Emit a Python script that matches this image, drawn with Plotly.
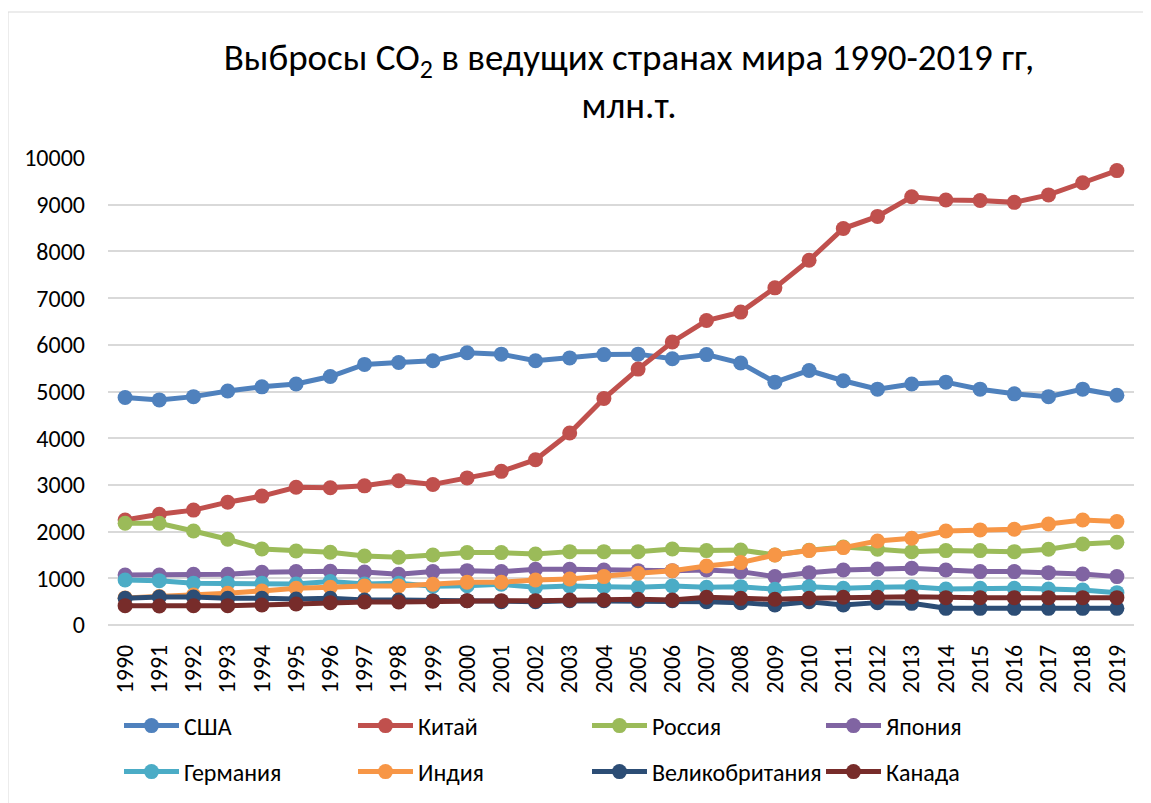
import plotly.graph_objects as go

years = list(range(1990, 2020))

usa = [4870, 4820, 4890, 5010, 5100, 5160, 5320, 5580, 5620, 5660,
       5830, 5800, 5660, 5720, 5790, 5800, 5700, 5790, 5610, 5200,
       5450, 5230, 5050, 5160, 5200, 5050, 4950, 4890, 5050, 4920]
china = [2250, 2370, 2460, 2630, 2760, 2950, 2940, 2980, 3090, 3010,
         3150, 3290, 3540, 4110, 4850, 5480, 6060, 6520, 6700, 7220,
         7810, 8490, 8750, 9170, 9100, 9090, 9050, 9210, 9470, 9730]
russia = [2180, 2180, 2014, 1836, 1629, 1586, 1557, 1479, 1450, 1500,
          1550, 1550, 1521, 1571, 1571, 1571, 1629, 1593, 1607, 1500,
          1600, 1670, 1621, 1571, 1593, 1593, 1571, 1621, 1736, 1771]
japan = [1071, 1071, 1086, 1086, 1129, 1143, 1150, 1136, 1086, 1143,
         1164, 1143, 1193, 1193, 1179, 1164, 1164, 1180, 1143, 1036,
         1121, 1179, 1200, 1214, 1179, 1143, 1143, 1121, 1093, 1036]
germany = [964, 950, 893, 893, 893, 879, 929, 879, 893, 830,
           843, 871, 807, 836, 821, 807, 836, 807, 821, 764,
           821, 786, 807, 821, 771, 786, 786, 771, 750, 693]
india = [580, 610, 643, 679, 729, 786, 807, 836, 836, 871,
         914, 914, 964, 986, 1036, 1107, 1164, 1264, 1336, 1500,
         1593, 1657, 1800, 1857, 2014, 2036, 2050, 2164, 2250, 2214]
uk = [571, 600, 600, 571, 571, 557, 571, 536, 536, 521,
      521, 500, 500, 521, 521, 521, 521, 500, 479, 429,
      500, 429, 479, 464, 357, 357, 357, 357, 357, 357]
canada = [414, 407, 414, 414, 429, 450, 479, 493, 493, 507,
          521, 521, 521, 536, 536, 550, 536, 593, 571, 550,
          571, 593, 593, 607, 586, 586, 586, 586, 586, 586]

names = ["США", "Китай", "Россия", "Япония",
         "Германия", "Индия", "Великобритания", "Канада"]
series = [usa, china, russia, japan, germany, india, uk, canada]
colors = ["#4F81BD", "#C0504D", "#9BBB59", "#8064A2",
          "#4BACC6", "#F79646", "#2C4D75", "#772C2A"]

FONT = "Carlito, Calibri, Lato, sans-serif"

fig = go.Figure()
for i, (n, s, c) in enumerate(zip(names, series, colors)):
    fig.add_trace(go.Scatter(
        x=years, y=s, name=n, mode="lines+markers",
        line=dict(color=c, width=5),
        marker=dict(color=c, size=15),
        cliponaxis=False,
        legend="legend" if i < 4 else "legend2",
    ))

# page offset of the figure inside the browser (body margin)
OFF = 8
W, H = 1151, 803
# plot area in screen pixels
SL, SR, ST, SB = 108, 1134, 158, 625
L, T = SL - OFF, ST - OFF
R = W - (SR - OFF)
B = H - (SB - OFF)
pw = W - L - R
ph = H - T - B

def px_x(p):  # screen px -> paper
    return (p - SL) / pw

def px_y(p):
    return (SB - p) / ph

legend_common = dict(
    orientation="h", xanchor="left", yanchor="middle",
    entrywidth=164, itemwidth=55,
    font=dict(size=24, family=FONT, color="#000000"),
    bgcolor="rgba(0,0,0,0)",
)

fig.update_layout(
    width=W, height=H,
    margin=dict(l=L, r=R, t=T, b=B, autoexpand=False),
    paper_bgcolor="white", plot_bgcolor="white",
    font=dict(family=FONT, size=24, color="#000000"),
    title=dict(
        text="Выбросы CO<sub>2</sub> в ведущих странах мира 1990-2019 гг,<br>млн.т.",
        x=(630 - OFF - 1) / W, xanchor="center", xref="container",
        y=1 - (70 - OFF) / H, yanchor="top", yref="container",
        font=dict(family=FONT, size=37, color="#000000"),
    ),
    xaxis=dict(
        range=[1989.5, 2019.5], tickmode="array", tickvals=years,
        ticktext=[str(y) for y in years], tickangle=-90,
        showgrid=False, zeroline=False, showline=False,
        ticks="", ticklabelstandoff=14,
        tickfont=dict(size=24, family=FONT, color="#000000"),
    ),
    yaxis=dict(
        range=[0, 10000], tickmode="linear", tick0=0, dtick=1000,
        tickformat="d",
        showgrid=True, gridcolor="#D9D9D9", gridwidth=1.5,
        zeroline=True, zerolinecolor="#D9D9D9", zerolinewidth=1.5,
        showline=False, ticks="", ticklabelstandoff=22,
        tickfont=dict(size=24, family=FONT, color="#000000"),
    ),
    legend=dict(x=px_x(119), y=px_y(726), **legend_common),
    legend2=dict(x=px_x(119), y=px_y(772), **legend_common),
    showlegend=True,
    shapes=[dict(
        type="rect", xref="paper", yref="paper",
        x0=px_x(OFF), x1=px_x(1170), y0=px_y(830), y1=px_y(12),
        line=dict(color="#D9D9D9", width=1), fillcolor="rgba(0,0,0,0)",
        layer="below",
    )],
)

fig.write_html("out.html")
